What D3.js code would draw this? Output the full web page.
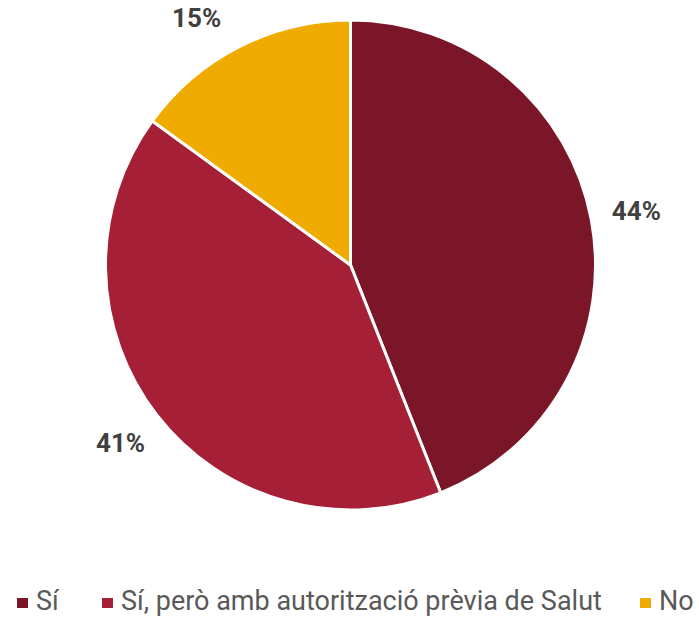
<!DOCTYPE html>
<html>
<head>
<meta charset="utf-8">
<script src="https://cdn.jsdelivr.net/npm/d3@7"></script>
<style>
body { margin: 0; background: #fff; }
svg { display: block; font-family: Roboto, sans-serif; }
</style>
</head>
<body>
<svg id="chart" width="699" height="618"></svg>
<script>
var categories = ['Sí', 'Sí, però amb autorització prèvia de Salut', 'No'];
var values = [44, 41, 15];
var colors = ['#7B1628', '#A51F36', '#F0AB00'];

var svg = d3.select('#chart');
var cx = 350.5, cy = 265, r = 245;

var pie = d3.pie().sort(null).value(function(d){ return d; });
var arcs = pie(values);
var arc = d3.arc().innerRadius(0).outerRadius(r);

var g = svg.append('g').attr('transform', 'translate(' + cx + ',' + cy + ')');

g.selectAll('path')
    .data(arcs)
    .enter()
    .append('path')
    .attr('d', arc)
    .attr('fill', function(d, i){ return colors[i]; })
    .attr('stroke', '#fff')
    .attr('stroke-width', 3);

// labels outside the slices, pushed down along the circle if they hit the top
var labelR = r + 46;
var labelArc = d3.arc().innerRadius(labelR).outerRadius(labelR);
function labelPos(d){
    var p = labelArc.centroid(d);
    var minY = 18 - cy;
    if(p[1] < minY){
        p[1] = minY;
        p[0] = (p[0] < 0 ? -1 : 1) * Math.sqrt(labelR * labelR - minY * minY);
    }
    return p;
}
g.selectAll('text.lbl')
    .data(arcs)
    .enter()
    .append('text')
    .attr('class', 'lbl')
    .attr('transform', function(d){ return 'translate(' + labelPos(d) + ')'; })
    .attr('text-anchor', 'middle')
    .attr('dy', '0.35em')
    .attr('font-size', 26)
    .attr('font-weight', 'bold')
    .attr('fill', '#404040')
    .text(function(d){ return d.value + '%'; });

// legend
var legendX = [17, 102, 640];
var legend = svg.append('g').attr('transform', 'translate(0,602)');
var items = legend.selectAll('g')
    .data(categories)
    .enter()
    .append('g')
    .attr('transform', function(d, i){ return 'translate(' + legendX[i] + ',0)'; });
items.append('rect')
    .attr('x', 0).attr('y', -4)
    .attr('width', 11).attr('height', 10)
    .attr('fill', function(d, i){ return colors[i]; });
items.append('text')
    .attr('x', 19)
    .attr('dy', '0.3em')
    .attr('font-size', 27)
    .attr('fill', '#595959')
    .text(function(d){ return d; });
</script>
</body>
</html>
